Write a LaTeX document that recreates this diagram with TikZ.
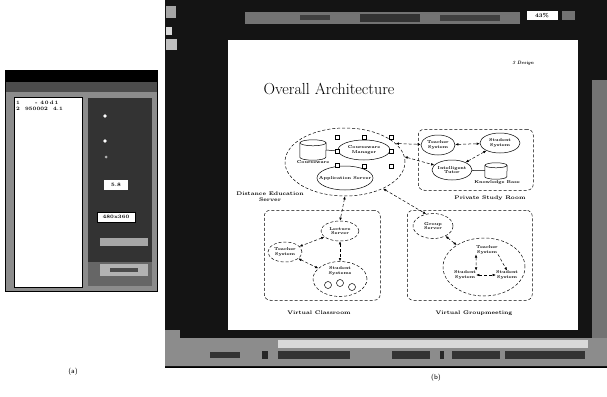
\documentclass[tikz,border=0pt]{standalone}
\usetikzlibrary{shapes.geometric,arrows.meta}
\begin{document}
\begin{tikzpicture}[x=1pt,y=-1pt,
  lbl/.style={font=\fontsize{4.2}{4.6}\selectfont\bfseries, align=center, inner sep=0pt},
  roomlabel/.style={font=\fontsize{5.2}{5.8}\selectfont\bfseries, align=center, inner sep=0pt},
  ell/.style={ellipse, draw, densely dashed, inner sep=0pt, line width=0.5pt},
  conn/.style={densely dashed, line width=0.5pt, {Latex[length=3.2pt,width=2.6pt]}-{Latex[length=3.2pt,width=2.6pt]}},
  oneway/.style={densely dashed, line width=0.5pt, -{Latex[length=3.2pt,width=2.6pt]}},
  sq/.style={draw, fill=white, minimum size=4pt, inner sep=0pt, line width=0.5pt},
  cylbox/.style={inner sep=0pt},
  room/.style={draw, densely dashed, rounded corners=6pt, line width=0.5pt},
  plabel/.style={font=\sffamily\fontsize{7}{8}\selectfont, inner sep=0pt}]
\useasboundingbox (0,0) rectangle (607,396);
\fill[white] (0,0) rectangle (607,396);

% ---------------- panel (a) ----------------
\fill[black!45] (5,70) rectangle (157,291);
\fill[black] (5,70) rectangle (157,82);
\fill[black!70] (5,82) rectangle (157,92);
\fill[black!80] (88,98) rectangle (152,262);
\fill[black!60] (88,262) rectangle (152,286);
\draw[black, line width=0.8pt] (5,70) rectangle (157,291);
\node[draw=black, fill=white, minimum width=68pt, minimum height=190pt, anchor=north west, inner sep=0pt, line width=0.8pt] (alist) at (14,97) {};
\node[anchor=north west, font=\fontsize{5}{5}\selectfont\bfseries, inner sep=0pt] (arow1) at (16,101) {1 \hspace{10pt} - 4\,0\,d\,1};
\node[anchor=north west, font=\fontsize{5}{5}\selectfont\bfseries, inner sep=0pt] (arow2) at (16,107) {2 \ 950002 \ 4.1};
\fill[white] (105,116) circle (1.8pt);
\fill[white] (105,141) circle (1.8pt);
\fill[white!70!black] (106,157) circle (1.5pt);
\node[fill=white, minimum width=24pt, minimum height=10pt, inner sep=0pt, font=\fontsize{5}{5}\selectfont\bfseries] (abox1) at (116,185) {5.8};
\node[fill=white, draw=black, minimum width=38pt, minimum height=10pt, inner sep=0pt, font=\fontsize{5}{5}\selectfont\bfseries] (abox2) at (116,217) {480x360};
\fill[black!35] (100,238) rectangle (148,246);
\fill[black!30] (100,264) rectangle (148,276);
\fill[black!70] (110,268) rectangle (138,272);
\node[plabel] (la) at (73,372) {(a)};

% ---------------- panel (b) ----------------
\fill[black!92] (165,0) rectangle (607,368);
\fill[black!55] (245,12) rectangle (520,24);
\fill[black!75] (300,15) rectangle (330,20);
\fill[black!80] (360,14) rectangle (420,22);
\fill[black!75] (440,15) rectangle (500,21);
\node[fill=white, minimum width=31pt, minimum height=9pt, inner sep=0pt, font=\fontsize{5.5}{5.5}\selectfont\bfseries] (zoombox) at (542,15.5) {43\%};
\fill[black!55] (562,11) rectangle (575,20);
\fill[black!35] (166,6) rectangle (176,18);
\fill[black!15] (166,27) rectangle (172,35);
\fill[black!25] (166,39) rectangle (177,50);
\fill[black!55] (592,80) rectangle (607,340);
\fill[black!45] (165,330) rectangle (180,340);
\fill[black!45] (165,338) rectangle (607,366);
\fill[black!15] (278,340) rectangle (588,348);
\fill[black!80] (210,352) rectangle (240,358);
\fill[black!85] (262,351) rectangle (268,359);
\fill[black!80] (278,351) rectangle (350,359);
\fill[black!80] (392,351) rectangle (430,359);
\fill[black!85] (440,351) rectangle (444,359);
\fill[black!80] (452,351) rectangle (500,359);
\fill[black!80] (505,351) rectangle (585,359);
\draw[black, line width=0.8pt] (165,367) -- (607,367);
\node[plabel] (lb) at (436,378) {(b)};

% slide
\node[fill=white, minimum width=350pt, minimum height=290pt, anchor=north west, inner sep=0pt] (slide) at (228,40) {};
\node[font=\fontsize{16}{16}\selectfont, inner sep=0pt] (title) at (329,89) {Overall Architecture};
\node[font=\fontsize{4.8}{5}\selectfont\bfseries\itshape, inner sep=0pt] (sec) at (523,63) {3 Design};

% Distance Education Server
\node[ell, minimum width=120pt, minimum height=68pt] (des) at (345,162) {};
\node[cylbox, minimum width=26pt, minimum height=14pt] (cw) at (313,150) {};
\draw[line width=0.5pt] (cw.north west) -- (cw.south west) arc[x radius=13pt, y radius=3pt, start angle=180, end angle=360] -- (cw.north east);
\draw[line width=0.5pt] (cw.north) ellipse [x radius=13pt, y radius=3pt];
\node[lbl, anchor=north] (cwl) at (313,160) {Courseware};
\node[ell, solid, minimum width=52pt, minimum height=20pt] (cwm) at (364,150) {};
\node[lbl] (cwmt) at (364,150) {Courseware\\Manager};
\node[ell, solid, minimum width=56pt, minimum height=24pt] (app) at (345,178) {};
\node[lbl] (appt) at (345,178) {Application Server};
\node[sq] (s1) at (337,137) {};
\node[sq] (s2) at (364,137) {};
\node[sq] (s3) at (391,137) {};
\node[sq] (s4) at (337,151) {};
\node[sq] (s5) at (391,151) {};
\node[sq] (s6) at (337,165) {};
\node[sq] (s7) at (364,166) {};
\node[sq] (s8) at (391,166) {};
\draw[line width=0.5pt] (cw.east) -- (s4);
\node[roomlabel] (desl) at (270,197) {Distance Education\\Server};

% Private Study Room
\node[room, minimum width=115pt, minimum height=61pt, anchor=north west, inner sep=0pt] (psr) at (418,129) {};
\node[roomlabel] (psrl) at (490,198) {Private Study Room};
\node[ell, solid, minimum width=34pt, minimum height=20pt] (pts) at (438,145) {};
\node[lbl] (ptst) at (438,145) {Teacher\\System};
\node[ell, solid, minimum width=40pt, minimum height=20pt] (pss) at (500,143) {};
\node[lbl] (psst) at (500,143) {Student\\System};
\node[ell, solid, minimum width=40pt, minimum height=20pt] (pit) at (452,170) {};
\node[lbl] (pitt) at (452,170) {Intelligent\\Tutor};
\node[cylbox, minimum width=22pt, minimum height=11pt] (kb) at (496,171) {};
\draw[line width=0.5pt] (kb.north west) -- (kb.south west) arc[x radius=11pt, y radius=2.5pt, start angle=180, end angle=360] -- (kb.north east);
\draw[line width=0.5pt] (kb.north) ellipse [x radius=11pt, y radius=2.5pt];
\node[lbl, anchor=north] (kbl) at (497,180) {Knowledge Base};
\draw[line width=0.5pt] (pit) -- (kb);
\draw[conn] (pts) -- (pss);
\draw[conn] (pit) -- (pss);
\draw[conn] (des.20) -- (pts);
\draw[conn] (des.5) -- (pit);

% Virtual Classroom
\node[room, minimum width=116pt, minimum height=90pt, anchor=north west, inner sep=0pt] (vc) at (264,210) {};
\node[roomlabel] (vcl) at (319,313) {Virtual Classroom};
\node[ell, minimum width=38pt, minimum height=20pt, fill=white] (lec) at (340,231) {};
\node[lbl] (lect) at (340,231) {Lecture\\Server};
\node[ell, minimum width=34pt, minimum height=20pt] (cts) at (285,252) {};
\node[lbl] (ctst) at (285,252) {Teacher\\System};
\node[ell, minimum width=54pt, minimum height=35pt] (css) at (340,279) {};
\node[lbl] (csst) at (340,271) {Student\\Systems};
\node[draw, circle, minimum size=7pt, inner sep=0pt, line width=0.5pt] (c1) at (328,285) {};
\node[draw, circle, minimum size=7pt, inner sep=0pt, line width=0.5pt] (c2) at (340,283) {};
\node[draw, circle, minimum size=7pt, inner sep=0pt, line width=0.5pt] (c3) at (352,287) {};
\draw[conn] (des.south) -- (lec.north);
\draw[conn] (lec) -- (cts);
\draw[conn] (lec) -- (css);
\draw[conn] (cts) -- (css);

% Virtual Groupmeeting
\node[room, minimum width=125pt, minimum height=90pt, anchor=north west, inner sep=0pt] (vg) at (407,210) {};
\node[roomlabel] (vgl) at (474,313) {Virtual Groupmeeting};
\node[ell, minimum width=40pt, minimum height=25pt, fill=white] (gs) at (433,226) {};
\node[lbl] (gst) at (433,226) {Group\\Server};
\node[ell, minimum width=82pt, minimum height=58pt] (gbig) at (484,267) {};
\node[lbl] (gts) at (487,250) {Teacher\\System};
\node[lbl] (gs1) at (465,275) {Student\\System};
\node[lbl] (gs2) at (507,275) {Student\\System};
\draw[conn] (des.-35) -- (gs.120);
\draw[conn] (gs) -- (gbig);
\draw[conn] (gts.south west) -- (gs1.north east);
\draw[oneway] (gts.south east) -- (gs2.north);
\draw[conn] (gs1.east) -- (gs2.west);
\end{tikzpicture}
\end{document}
